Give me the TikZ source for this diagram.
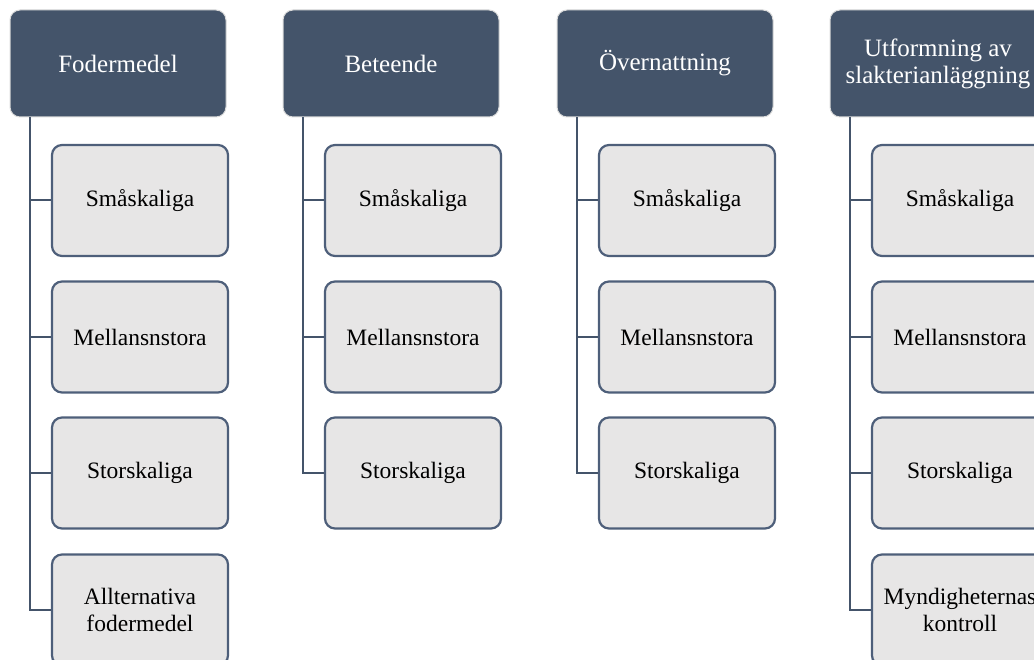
\documentclass[tikz,border=0pt]{standalone}
\usepackage{fontspec}
\setmainfont{Liberation Serif}
\usetikzlibrary{calc}
\definecolor{hdr}{HTML}{44546A}
\definecolor{chfill}{HTML}{E7E6E6}
\definecolor{chline}{HTML}{4E5F7A}
\definecolor{halo}{HTML}{DADADA}
\begin{document}
\begin{tikzpicture}[x=1pt,y=-1pt,
  header/.style={rectangle,rounded corners=10pt,fill=hdr,draw=halo,line width=1pt,
    minimum width=216pt,minimum height=107pt,inner sep=0pt,text=white,align=center,
    font=\fontsize{25}{27}\selectfont},
  child/.style={rectangle,rounded corners=10pt,fill=chfill,draw=chline,line width=2.2pt,
    minimum width=176pt,minimum height=111pt,inner sep=0pt,text=black,align=center,
    font=\fontsize{23.5}{27}\selectfont},
  conn/.style={draw=hdr,line width=2pt}]
\useasboundingbox (0,0) rectangle (1034,660);
% column 1
\node[header] (h1) at (118,63.5) {Fodermedel};
\node[child] (c11) at (140,200.5) {Småskaliga};
\node[child] (c12) at (140,337) {Mellansnstora};
\node[child] (c13) at (140,473) {Storskaliga};
\node[child] (c14) at (140,610) {Allternativa\\fodermedel};
% column 2
\node[header] (h2) at (391,63.5) {Beteende};
\node[child] (c21) at (413,200.5) {Småskaliga};
\node[child] (c22) at (413,337) {Mellansnstora};
\node[child] (c23) at (413,473) {Storskaliga};
% column 3
\node[header] (h3) at (665,63.5) {Övernattning};
\node[child] (c31) at (687,200.5) {Småskaliga};
\node[child] (c32) at (687,337) {Mellansnstora};
\node[child] (c33) at (687,473) {Storskaliga};
% column 4
\node[header] (h4) at (938,63.5) {Utformning av\\slakterianläggning};
\node[child] (c41) at (960,200.5) {Småskaliga};
\node[child] (c42) at (960,337) {Mellansnstora};
\node[child] (c43) at (960,473) {Storskaliga};
\node[child] (c44) at (960,610) {Myndigheternas\\kontroll};
% connectors
\foreach \h/\last/\others in {h1/c14/{c11,c12,c13}, h2/c23/{c21,c22}, h3/c33/{c31,c32}, h4/c44/{c41,c42,c43}}{
  \coordinate (t) at ($(\h.south west)+(20,0)$);
  \draw[conn] (t) |- (\last.west);
  \foreach \c in \others {\draw[conn] (t |- \c.west) -- (\c.west);}
}
\end{tikzpicture}
\end{document}
